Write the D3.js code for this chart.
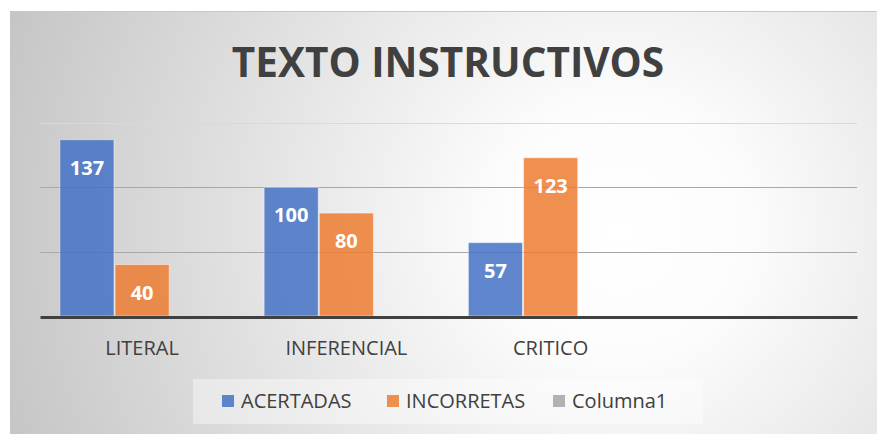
<!DOCTYPE html>
<html lang="es">
<meta charset="utf-8">
<title>TEXTO INSTRUCTIVOS</title>
<style>
  body { margin: 0; background: #fff; }
  svg { display: block; }
</style>
<body>
<div id="chart"></div>
<script src="https://cdn.jsdelivr.net/npm/d3@7"></script>
<script>
// Data
var categories = ["LITERAL", "INFERENCIAL", "CRITICO", ""];
var seriesNames = ["ACERTADAS", "INCORRETAS", "Columna1"];
var acertadas = [137, 100, 57, null];
var incorretas = [40, 80, 123, null];
var columna1 = [null, null, null, null];
var yTicks = [0, 50, 100, 150];
var title = "TEXTO INSTRUCTIVOS";

var seriesValues = [acertadas, incorretas, columna1];
var colors = ["#4472C4", "#ED7D31", "#A5A5A5"];

var W = 877, H = 434;
var svg = d3.select("#chart").append("svg").attr("width", W).attr("height", H);

// Background: radial grey-to-white fill like the Excel style
var defs = svg.append("defs");
var grad = defs.append("radialGradient").attr("id", "bg")
  .attr("gradientUnits", "userSpaceOnUse")
  .attr("cx", 620).attr("cy", 230).attr("r", 640);
grad.append("stop").attr("offset", "0%").attr("stop-color", "#ffffff");
grad.append("stop").attr("offset", "20%").attr("stop-color", "#fcfcfc");
grad.append("stop").attr("offset", "100%").attr("stop-color", "#c6c6c6");

svg.append("rect").attr("x", 10.5).attr("y", 11.5)
  .attr("width", W + 10).attr("height", H + 10)
  .attr("fill", "url(#bg)").attr("stroke", "#c6c6c6");

// Title
svg.append("text").attr("x", 448).attr("y", 77)
  .attr("text-anchor", "middle")
  .style("font-family", "'Open Sans', sans-serif")
  .style("font-weight", "bold").style("font-size", "40.5px")
  .attr("fill", "#404040").text(title);

// Scales
var x0 = d3.scaleBand().domain(categories).range([40, 857]).padding(0);
var x1 = d3.scaleBand().domain(seriesNames).range([0, x0.bandwidth()])
  .paddingInner(0.02).paddingOuter(0.36);
var y = d3.scaleLinear().domain([0, 150]).range([316, 123]);

// Gridlines
svg.append("g").selectAll("line").data(yTicks.filter(function (d) { return d > 0; }))
  .join("line")
  .attr("x1", 40).attr("x2", 857)
  .attr("y1", function (d) { return Math.round(y(d)) + 0.5; })
  .attr("y2", function (d) { return Math.round(y(d)) + 0.5; })
  .attr("stroke", function (d) { return d === 150 ? "#d9d9d9" : "#a8a8a8"; })
  .attr("stroke-width", 1.2);

// Bars
var groups = svg.append("g").selectAll("g").data(seriesNames).join("g");
groups.selectAll("rect")
  .data(function (s, i) {
    return categories.map(function (c, j) { return { s: s, i: i, c: c, v: seriesValues[i][j] }; })
      .filter(function (d) { return d.v != null; });
  })
  .join("rect")
  .attr("x", function (d) { return x0(d.c) + x1(d.s); })
  .attr("width", x1.bandwidth())
  .attr("y", function (d) { return y(d.v); })
  .attr("height", function (d) { return y(0) - y(d.v); })
  .attr("fill", function (d) { return colors[d.i]; })
  .attr("fill-opacity", 0.85)
  .attr("stroke", "#ffffff").attr("stroke-opacity", 0.45).attr("stroke-width", 1);

// Data labels (inside end)
groups.selectAll("text")
  .data(function (s, i) {
    return categories.map(function (c, j) { return { s: s, i: i, c: c, v: seriesValues[i][j] }; })
      .filter(function (d) { return d.v != null; });
  })
  .join("text")
  .attr("x", function (d) { return x0(d.c) + x1(d.s) + x1.bandwidth() / 2; })
  .attr("y", function (d) { return y(d.v) + 35; })
  .attr("text-anchor", "middle")
  .style("font-family", "'Open Sans', sans-serif")
  .style("font-weight", "bold").style("font-size", "20px")
  .attr("fill", "#ffffff")
  .text(function (d) { return d.v; });

// Baseline axis
var xAxis = svg.append("g").attr("transform", "translate(0,317)")
  .call(d3.axisBottom(x0).tickSize(0).tickPadding(24));
xAxis.select(".domain").attr("stroke", "#404040").attr("stroke-width", 3);
xAxis.selectAll("text")
  .style("font-family", "'Open Sans', sans-serif")
  .style("font-size", "20px").attr("fill", "#404040");

// Legend
var legend = svg.append("g");
legend.append("rect").attr("x", 193).attr("y", 379).attr("width", 510).attr("height", 45)
  .attr("fill", "#ffffff").attr("fill-opacity", 0.4);
var legendX = [222, 387, 553];
var items = legend.selectAll("g.item").data(seriesNames).join("g").attr("class", "item")
  .attr("transform", function (d, i) { return "translate(" + legendX[i] + ",395)"; });
items.append("rect").attr("width", 12).attr("height", 12)
  .attr("fill", function (d, i) { return colors[i]; }).attr("fill-opacity", 0.85);
items.append("text").attr("x", 19).attr("y", 13)
  .style("font-family", "'Open Sans', sans-serif")
  .style("font-size", "20px").attr("fill", "#404040")
  .text(function (d) { return d; });
</script>
</body>
</html>
